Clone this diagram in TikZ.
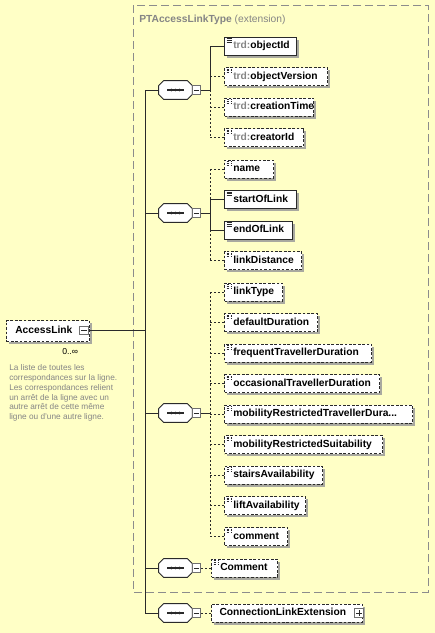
\documentclass[tikz,border=0pt]{standalone}
\usepackage{fontspec}
\setmainfont{Liberation Sans}
\usetikzlibrary{shadows}
\definecolor{bg}{HTML}{FFFFC6}
\definecolor{frame}{HTML}{8C8C8C}
\definecolor{note}{HTML}{858585}
\definecolor{shade}{HTML}{A9A9A0}
\definecolor{ink}{HTML}{2A2A2A}
% sequence compositor: chamfered outline with a shadow, the "---" glyph and dots
\newcommand{\seqcomp}[3]{%
  \node[compbase] (#1) at (#2,#3) {};
  \begin{scope}[shift={(2.2pt,-2.2pt)}]
    \fill[shade] ([xshift=3.6pt]#1.north west) -- ([xshift=-3.6pt]#1.north east) -- ([yshift=-3.6pt]#1.north east)
      -- ([yshift=3.6pt]#1.south east) -- ([xshift=-3.6pt]#1.south east) -- ([xshift=3.6pt]#1.south west)
      -- ([yshift=3.6pt]#1.south west) -- ([yshift=-3.6pt]#1.north west) -- cycle;
  \end{scope}
  \filldraw[fill=white,draw=ink,line width=0.75pt,line join=round]
    ([xshift=3.6pt]#1.north west) -- ([xshift=-3.6pt]#1.north east) -- ([yshift=-3.6pt]#1.north east)
      -- ([yshift=3.6pt]#1.south east) -- ([xshift=-3.6pt]#1.south east) -- ([xshift=3.6pt]#1.south west)
      -- ([yshift=3.6pt]#1.south west) -- ([yshift=-3.6pt]#1.north west) -- cycle;
  \draw[ink,line width=0.8pt] ([xshift=-6.2pt]#1.center) -- ([xshift=6.2pt]#1.center);
  \fill[ink] ([xshift=-3.1pt]#1.center) circle (1.05pt);
  \fill[ink] (#1.center) circle (1.05pt);
  \fill[ink] ([xshift=3.1pt]#1.center) circle (1.05pt);
}
\begin{document}
\begin{tikzpicture}[x=0.75pt,y=-0.75pt,
  every node/.style={font=\fontsize{7.7}{9}\selectfont\bfseries},
  shadowed/.style={drop shadow={shadow xshift=2.2pt,shadow yshift=-2.2pt,fill=shade,opacity=1,draw=none}},
  elbox/.style={draw=ink,line width=0.75pt,fill=white,anchor=west,
    minimum width=#1,text width=#1,inner xsep=0pt,inner ysep=0pt,
    minimum height=13.5pt,text height=5.8pt,text depth=1.7pt,align=left,shadowed},
  opt/.style={dash pattern=on 2pt off 1.3pt},
  icon/.style={path picture={
      \draw[ink,line width=0.5pt] ([xshift=1.5pt,yshift=-1.0pt]path picture bounding box.north west) -- ++(3.8pt,0pt);
      \draw[ink,line width=0.5pt] ([xshift=1.5pt,yshift=-2.4pt]path picture bounding box.north west) -- ++(3.8pt,0pt);
      \draw[ink,line width=0.5pt] ([xshift=1.5pt,yshift=-3.8pt]path picture bounding box.north west) -- ++(3.8pt,0pt);}},
  compbase/.style={rectangle,draw=none,fill=none,minimum width=24.75pt,minimum height=13.5pt,inner sep=0pt},
  minusbox/.style={draw=frame!80!black,line width=0.6pt,fill=white,minimum size=6.5pt,inner sep=0pt,
    path picture={\draw[ink,line width=0.6pt] ([xshift=1.3pt]path picture bounding box.west) -- ([xshift=-1.3pt]path picture bounding box.east);}},
  plusbox/.style={minusbox,
    path picture={\draw[ink,line width=0.6pt] ([xshift=1.3pt]path picture bounding box.west) -- ([xshift=-1.3pt]path picture bounding box.east);
      \draw[ink,line width=0.6pt] ([yshift=-1.3pt]path picture bounding box.north) -- ([yshift=1.3pt]path picture bounding box.south);}},
  wire/.style={draw=ink,line width=0.75pt},
  optwire/.style={wire,dash pattern=on 1.5pt off 1.5pt}
]
\fill[bg] (0,0) rectangle (435,633);
\useasboundingbox (0,0) rectangle (435,633);

% extension frame
\draw[frame,line width=0.75pt,dash pattern=on 6pt off 3pt] (133,5) rectangle (428,592);
\node[anchor=west,text=note,inner sep=0pt] (extlabel) at (139,19.5) {PTAccessLinkType \mdseries(extension)};

% root element
\node[elbox=62.25pt,opt,minimum height=15.75pt] (al) at (6,331) {\hspace*{6.6pt}AccessLink};
\node[minusbox] (alm) at (84,330.5) {};
\node[font=\fontsize{6.5}{7}\selectfont\mdseries,anchor=west,inner sep=0pt] (mult) at (62,352) {0..∞};
\node[anchor=north west,align=left,text=note,font=\fontsize{6.2}{7.35}\selectfont\mdseries,inner sep=0pt] (doc) at (9,364.5)
  {La liste de toutes les\\correspondances sur la ligne.\\Les correspondances relient\\un arrêt de la ligne avec un\\autre arrêt de cette même\\ligne ou d'une autre ligne.};

% trunk
\coordinate (ttop) at (145,90);
\coordinate (tbot) at (145,613);
\draw[wire] (ttop) -- (tbot);
\draw[wire] (alm.east) -- (alm.east -| ttop);

% compositors
\seqcomp{s1}{175.5}{90}  \node[minusbox] (s1m) at (196.5,90) {};
\seqcomp{s2}{175.5}{213} \node[minusbox] (s2m) at (196.5,213) {};
\seqcomp{s3}{175.5}{413} \node[minusbox] (s3m) at (196.5,413) {};
\seqcomp{s4}{175.5}{568} \node[minusbox] (s4m) at (196.5,568) {};
\seqcomp{s5}{175.5}{613} \node[minusbox] (s5m) at (196.5,613) {};
\foreach \s in {s1,s2,s3,s4,s5}{\draw[wire] (\s.west -| ttop) -- (\s.west);}

% group 1
\coordinate (g1) at (210,90);
\node[elbox=54pt,icon] (objectId) at (224,46) {\hspace*{6.6pt}\textcolor{note}{trd:}objectId};
\node[elbox=77.25pt,icon,opt] (objectVersion) at (224,76.5) {\hspace*{6.6pt}\textcolor{note}{trd:}objectVersion};
\node[elbox=66.75pt,icon,opt] (creationTime) at (224,107) {\hspace*{6.6pt}\textcolor{note}{trd:}creationTime};
\node[elbox=59.25pt,icon,opt] (creatorId) at (224,137.5) {\hspace*{6.6pt}\textcolor{note}{trd:}creatorId};
\draw[wire] (s1m.east) -- (g1);
\draw[wire] (objectId.west -| g1) -- (g1);
\draw[optwire] (g1) -- (creatorId.west -| g1);
\draw[wire] (objectId.west -| g1) -- (objectId.west);
\foreach \e in {objectVersion,creationTime,creatorId}{\draw[optwire] (\e.west -| g1) -- (\e.west);}

% group 2
\coordinate (g2) at (210,213);
\node[elbox=36.75pt,icon,opt] (name) at (224,169) {\hspace*{6.6pt}name};
\node[elbox=54pt,icon] (startOfLink) at (224,199.5) {\hspace*{6.6pt}startOfLink};
\node[elbox=51pt,icon] (endOfLink) at (224,230) {\hspace*{6.6pt}endOfLink};
\node[elbox=57.75pt,icon,opt] (linkDistance) at (224,260.5) {\hspace*{6.6pt}linkDistance};
\draw[wire] (s2m.east) -- (g2);
\draw[optwire] (name.west -| g2) -- (startOfLink.west -| g2);
\draw[wire] (startOfLink.west -| g2) -- (endOfLink.west -| g2);
\draw[optwire] (endOfLink.west -| g2) -- (linkDistance.west -| g2);
\foreach \e in {startOfLink,endOfLink}{\draw[wire] (\e.west -| g2) -- (\e.west);}
\foreach \e in {name,linkDistance}{\draw[optwire] (\e.west -| g2) -- (\e.west);}

% group 3
\coordinate (g3) at (210,413);
\node[elbox=43.5pt,icon,opt] (linkType) at (224,292) {\hspace*{6.6pt}linkType};
\node[elbox=69.75pt,icon,opt] (defaultDuration) at (224,322.5) {\hspace*{6.6pt}defaultDuration};
\node[elbox=110.25pt,icon,opt] (frequent) at (224,353) {\hspace*{6.6pt}frequentTravellerDuration};
\node[elbox=116.25pt,icon,opt] (occasional) at (224,383.5) {\hspace*{6.6pt}occasionalTravellerDuration};
\node[elbox=141pt,icon,opt] (mobDuration) at (224,414) {\hspace*{6.6pt}mobilityRestrictedTravellerDura...};
\node[elbox=118.5pt,icon,opt] (mobSuit) at (224,444.5) {\hspace*{6.6pt}mobilityRestrictedSuitability};
\node[elbox=73.5pt,icon,opt] (stairs) at (224,475) {\hspace*{6.6pt}stairsAvailability};
\node[elbox=60.75pt,icon,opt] (lift) at (224,505.5) {\hspace*{6.6pt}liftAvailability};
\node[elbox=47.25pt,icon,opt] (comment) at (224,536.5) {\hspace*{6.6pt}comment};
\draw[wire] (s3m.east) -- (g3);
\draw[optwire] (linkType.west -| g3) -- (comment.west -| g3);
\foreach \e in {linkType,defaultDuration,frequent,occasional,mobDuration,mobSuit,stairs,lift,comment}{\draw[optwire] (\e.west -| g3) -- (\e.west);}

% Comment and extension
\node[elbox=49.5pt,icon,opt] (Comment) at (211,568) {\hspace*{6.6pt}Comment};
\draw[optwire] (s4m.east) -- (Comment.west);
\node[elbox=113.25pt,opt] (cle) at (211,613) {\hspace*{6pt}ConnectionLinkExtension};
\node[plusbox] (clep) at (359,613) {};
\draw[optwire] (s5m.east) -- (cle.west);
\end{tikzpicture}
\end{document}
